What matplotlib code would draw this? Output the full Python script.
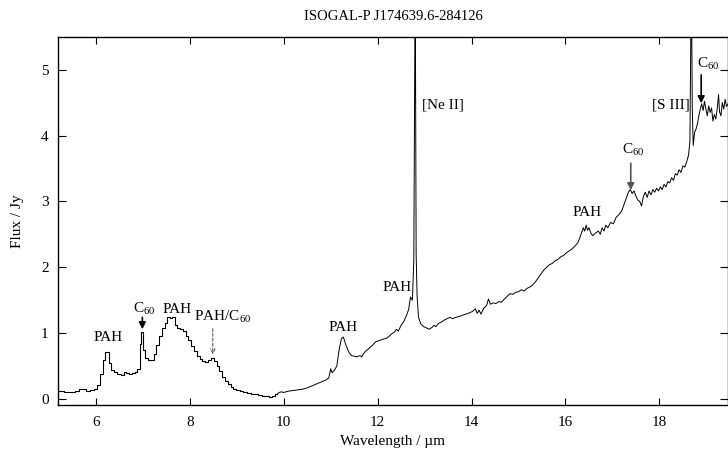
import matplotlib
matplotlib.use("Agg")
import matplotlib.pyplot as plt

# ---- data ----
# low-resolution (stepped) part of the spectrum
wl_short = [5.20, 5.28, 5.36, 5.44, 5.52, 5.60, 5.68, 5.76, 5.84, 5.92,
            6.00, 6.06, 6.12, 6.17, 6.21, 6.26, 6.30, 6.35, 6.42, 6.50,
            6.56, 6.62, 6.68, 6.74, 6.80, 6.86, 6.91, 6.95, 6.99, 7.03,
            7.08, 7.14, 7.20, 7.26, 7.32, 7.38, 7.44, 7.50, 7.55, 7.60,
            7.65, 7.70, 7.76, 7.82, 7.88, 7.94, 8.00, 8.06, 8.12, 8.18,
            8.24, 8.30, 8.36, 8.42, 8.48, 8.54, 8.60, 8.66, 8.72, 8.78,
            8.84, 8.90, 8.96, 9.02, 9.10, 9.18, 9.26, 9.34, 9.42, 9.50,
            9.58, 9.66, 9.72, 9.78, 9.86]
flux_short = [0.12, 0.12, 0.11, 0.11, 0.11, 0.12, 0.15, 0.15, 0.13, 0.14,
              0.15, 0.22, 0.38, 0.60, 0.72, 0.72, 0.55, 0.44, 0.41, 0.38,
              0.37, 0.41, 0.40, 0.38, 0.39, 0.41, 0.46, 0.84, 1.02, 0.75,
              0.62, 0.59, 0.60, 0.68, 0.82, 0.96, 1.08, 1.16, 1.24, 1.23,
              1.24, 1.12, 1.08, 1.06, 1.04, 0.96, 0.89, 0.80, 0.73, 0.66,
              0.61, 0.58, 0.57, 0.59, 0.62, 0.58, 0.50, 0.42, 0.34, 0.28,
              0.23, 0.19, 0.16, 0.14, 0.12, 0.10, 0.09, 0.08, 0.07, 0.06,
              0.05, 0.04, 0.035, 0.05, 0.07]

# higher-resolution part of the spectrum
wl_long = [9.86, 9.90, 9.95, 10.00, 10.10, 10.20, 10.30, 10.40, 10.50, 10.60,
           10.70, 10.80, 10.90, 10.96, 11.00, 11.03, 11.08, 11.13, 11.18, 11.23,
           11.27, 11.32, 11.38, 11.44, 11.50, 11.56, 11.62, 11.66, 11.72, 11.80,
           11.88, 11.96, 12.04, 12.12, 12.18, 12.24, 12.30, 12.36, 12.40, 12.44,
           12.50, 12.56, 12.62, 12.66, 12.70, 12.74, 12.77, 12.80, 12.82, 12.84,
           12.87, 12.92, 12.98, 13.04, 13.10, 13.16, 13.20, 13.24, 13.30, 13.36,
           13.42, 13.48, 13.54, 13.60, 13.66, 13.72, 13.80, 13.88, 13.96, 14.02,
           14.08, 14.12, 14.16, 14.20, 14.26, 14.32, 14.36, 14.40, 14.46, 14.52,
           14.58, 14.64, 14.70, 14.76, 14.82, 14.88, 14.94, 15.00, 15.06, 15.12,
           15.18, 15.24, 15.30, 15.36, 15.42, 15.48, 15.54, 15.60, 15.66, 15.72,
           15.78, 15.84, 15.90, 15.96, 16.02, 16.08, 16.14, 16.20, 16.26, 16.30,
           16.34, 16.38, 16.41, 16.44, 16.47, 16.50, 16.54, 16.58, 16.64, 16.70,
           16.74, 16.78, 16.82, 16.86, 16.90, 16.96, 17.02, 17.08, 17.14, 17.20,
           17.26, 17.30, 17.34, 17.38, 17.42, 17.46, 17.50, 17.54, 17.58, 17.62,
           17.66, 17.70, 17.74, 17.78, 17.82, 17.86, 17.90, 17.94, 17.98, 18.02,
           18.06, 18.10, 18.14, 18.18, 18.22, 18.26, 18.30, 18.34, 18.38, 18.42,
           18.46, 18.50, 18.54, 18.58, 18.62, 18.65, 18.68, 18.70, 18.72, 18.75,
           18.78, 18.81, 18.84, 18.87, 18.90, 18.93, 18.96, 18.99, 19.02, 19.05,
           19.08, 19.11, 19.14, 19.17, 19.20, 19.23, 19.26, 19.28, 19.31, 19.34,
           19.37, 19.40, 19.43, 19.46]
flux_long = [0.07, 0.10, 0.11, 0.10, 0.12, 0.13, 0.14, 0.15, 0.17, 0.20,
             0.23, 0.26, 0.29, 0.32, 0.46, 0.40, 0.44, 0.50, 0.75, 0.92,
             0.94, 0.83, 0.72, 0.66, 0.65, 0.64, 0.66, 0.64, 0.71, 0.76,
             0.81, 0.87, 0.89, 0.91, 0.92, 0.95, 0.99, 1.02, 1.06, 1.03,
             1.12, 1.18, 1.28, 1.36, 1.55, 1.50, 2.10, 6.50, 2.20, 1.57,
             1.24, 1.14, 1.10, 1.08, 1.06, 1.09, 1.12, 1.10, 1.15, 1.17,
             1.20, 1.22, 1.24, 1.22, 1.24, 1.25, 1.27, 1.29, 1.31, 1.33,
             1.37, 1.30, 1.35, 1.29, 1.38, 1.42, 1.52, 1.44, 1.46, 1.45,
             1.48, 1.47, 1.52, 1.56, 1.60, 1.59, 1.62, 1.63, 1.66, 1.64,
             1.68, 1.70, 1.73, 1.78, 1.84, 1.90, 1.96, 2.00, 2.04, 2.06,
             2.10, 2.12, 2.16, 2.18, 2.22, 2.25, 2.28, 2.32, 2.37, 2.44,
             2.52, 2.60, 2.55, 2.64, 2.56, 2.60, 2.52, 2.48, 2.52, 2.55,
             2.50, 2.60, 2.55, 2.64, 2.60, 2.68, 2.66, 2.76, 2.80, 2.86,
             2.98, 3.06, 3.14, 3.18, 3.12, 3.16, 3.08, 3.02, 3.00, 2.93,
             3.08, 3.14, 3.06, 3.16, 3.10, 3.18, 3.14, 3.20, 3.16, 3.22,
             3.18, 3.26, 3.22, 3.30, 3.28, 3.36, 3.32, 3.42, 3.40, 3.48,
             3.44, 3.54, 3.52, 3.60, 3.70, 3.92, 6.50, 4.40, 3.85, 4.05,
             4.10, 4.18, 4.30, 4.40, 4.48, 4.38, 4.52, 4.40, 4.30, 4.45,
             4.35, 4.42, 4.22, 4.32, 4.25, 4.40, 4.62, 4.36, 4.30, 4.50,
             4.40, 4.55, 4.44, 4.48]

# feature labels: (text, x, y)
labels = [("PAH", 6.26, 0.93), ("C$_{60}$", 7.04, 1.37), ("PAH", 7.72, 1.36),
          ("PAH/C$_{60}$", 8.70, 1.24), ("PAH", 11.27, 1.09), ("PAH", 12.42, 1.70),
          ("[Ne II]", 13.38, 4.47), ("PAH", 16.46, 2.83), ("C$_{60}$", 17.44, 3.78),
          ("[S III]", 18.24, 4.47), ("C$_{60}$", 19.03, 5.08)]
# arrows: (x, y_tail, y_tip, style)
arrows = [(6.99, 1.24, 1.06, "solid"), (8.49, 1.07, 0.68, "dashed"),
          (17.39, 3.58, 3.17, "solid_grey"), (18.89, 4.92, 4.49, "solid")]

xticks = [6, 8, 10, 12, 14, 16, 18]
yticks = [0, 1, 2, 3, 4, 5]

# ---- styling ----
plt.rcParams["font.family"] = ["Liberation Serif", "DejaVu Serif"]
plt.rcParams["mathtext.fontset"] = "custom"
plt.rcParams["mathtext.rm"] = "Liberation Serif"
plt.rcParams["mathtext.it"] = "Liberation Serif:italic"

fig = plt.figure(figsize=(7.28, 4.54), dpi=100)
ax = fig.add_axes([58.3 / 728, 49 / 454, (727.5 - 58.3) / 728, (405 - 36.7) / 454])

ax.plot(wl_short, flux_short, color="black", lw=0.8, drawstyle="steps-mid")
ax.plot(wl_long, flux_long, color="black", lw=0.7)

for txt, x, y in labels:
    ax.text(x, y, txt, ha="center", va="center", fontsize=11)

for x, y0, y1, st in arrows:
    if st == "dashed":
        props = dict(arrowstyle="->", color="#444444", lw=0.7, linestyle=(0, (3, 2)),
                     shrinkA=0, shrinkB=0, mutation_scale=8)
    else:
        col = "#555555" if st == "solid_grey" else "black"
        props = dict(arrowstyle="-|>", color=col, lw=1.2, shrinkA=0, shrinkB=0,
                     mutation_scale=10)
    ax.annotate("", xy=(x, y1), xytext=(x, y0), arrowprops=props)

ax.set_xlim(5.2, 19.45)
ax.set_ylim(-0.09, 5.5)
ax.set_xticks(xticks)
ax.set_yticks(yticks)
ax.tick_params(axis="x", direction="in", length=5, width=0.8, top=True, pad=8, labelsize=11)
ax.tick_params(axis="y", direction="in", length=6, width=0.8, right=True, pad=7, labelsize=11)
for s in ax.spines.values():
    s.set_linewidth(1.0)

ax.set_xlabel("Wavelength / µm", fontsize=11, labelpad=4)
ax.set_ylabel("Flux / Jy", fontsize=11, labelpad=12)
ax.set_title("ISOGAL-P J174639.6-284126", fontsize=10.5, pad=12)

fig.savefig("out.png", dpi=100)
